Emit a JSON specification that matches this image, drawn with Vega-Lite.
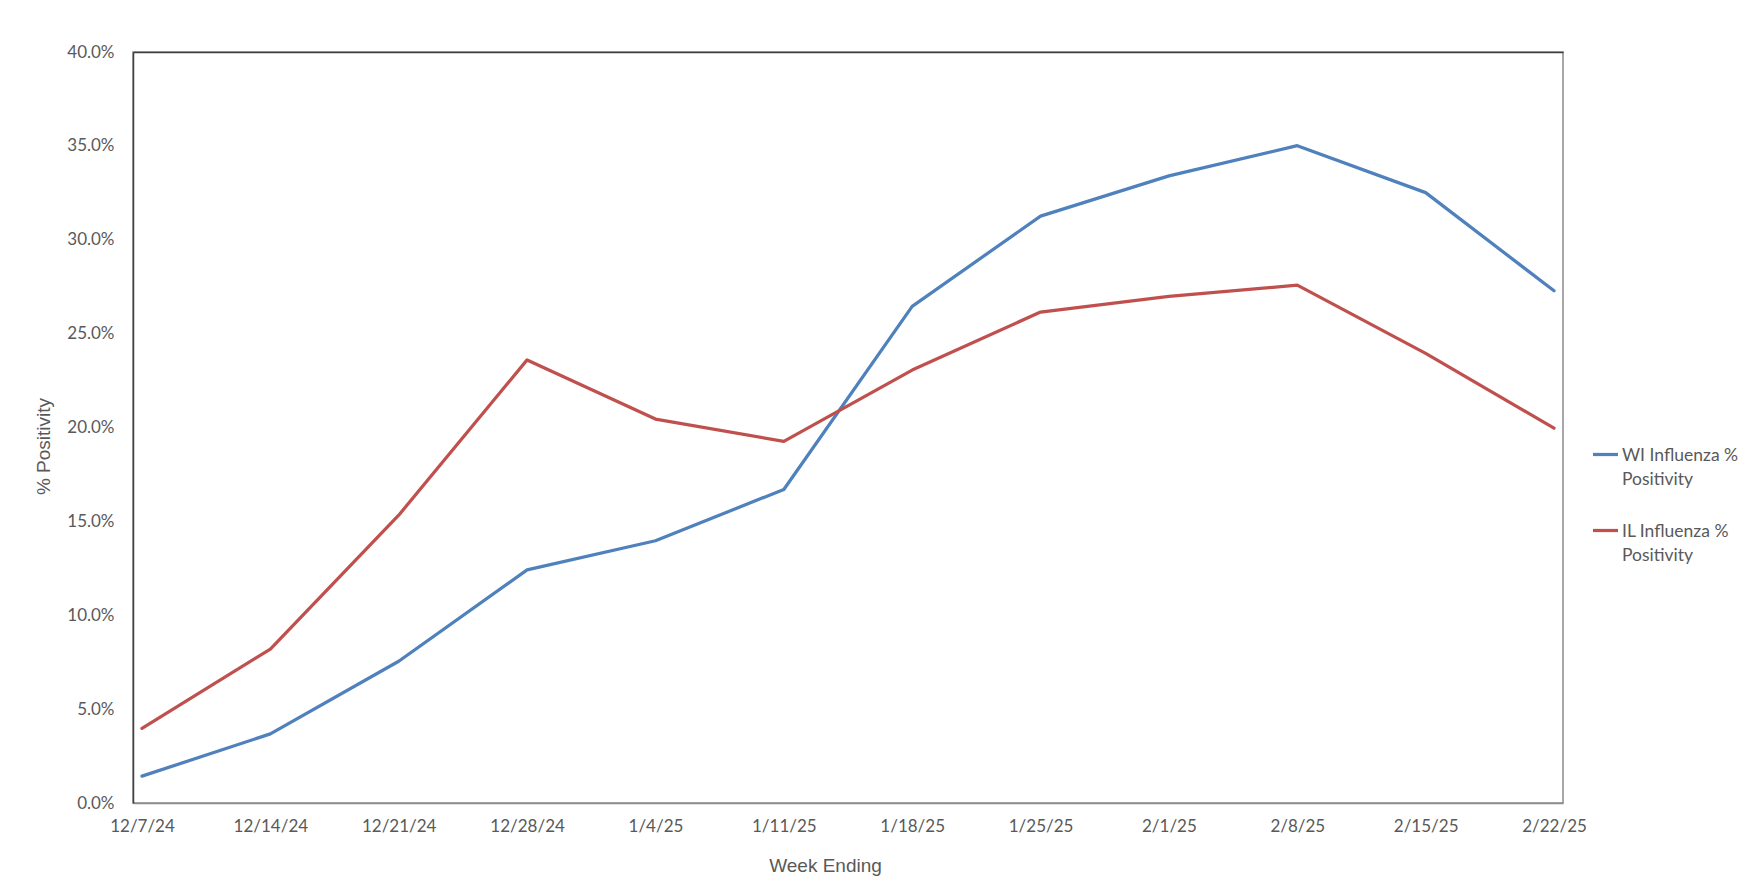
{
  "$schema": "https://vega.github.io/schema/vega-lite/v6.json",
  "width": 1430,
  "height": 751,
  "autosize": {"type": "none"},
  "padding": {"left": 133, "top": 52, "right": 187, "bottom": 92},
  "background": "white",
  "config": {
    "view": {"stroke": "#8c8c8c", "strokeWidth": 1.5},
    "font": "Lato"
  },
  "data": {
    "values": [
      {"week": "12/7/24", "series": "WI Influenza % Positivity", "value": 0.0143},
      {"week": "12/14/24", "series": "WI Influenza % Positivity", "value": 0.0368},
      {"week": "12/21/24", "series": "WI Influenza % Positivity", "value": 0.0755},
      {"week": "12/28/24", "series": "WI Influenza % Positivity", "value": 0.1242},
      {"week": "1/4/25", "series": "WI Influenza % Positivity", "value": 0.1397},
      {"week": "1/11/25", "series": "WI Influenza % Positivity", "value": 0.167},
      {"week": "1/18/25", "series": "WI Influenza % Positivity", "value": 0.2645},
      {"week": "1/25/25", "series": "WI Influenza % Positivity", "value": 0.3126},
      {"week": "2/1/25", "series": "WI Influenza % Positivity", "value": 0.334},
      {"week": "2/8/25", "series": "WI Influenza % Positivity", "value": 0.3501},
      {"week": "2/15/25", "series": "WI Influenza % Positivity", "value": 0.3251},
      {"week": "2/22/25", "series": "WI Influenza % Positivity", "value": 0.2728},
      {"week": "12/7/24", "series": "IL Influenza % Positivity", "value": 0.0398},
      {"week": "12/14/24", "series": "IL Influenza % Positivity", "value": 0.082},
      {"week": "12/21/24", "series": "IL Influenza % Positivity", "value": 0.1533},
      {"week": "12/28/24", "series": "IL Influenza % Positivity", "value": 0.236},
      {"week": "1/4/25", "series": "IL Influenza % Positivity", "value": 0.2045},
      {"week": "1/11/25", "series": "IL Influenza % Positivity", "value": 0.1926},
      {"week": "1/18/25", "series": "IL Influenza % Positivity", "value": 0.2306},
      {"week": "1/25/25", "series": "IL Influenza % Positivity", "value": 0.2615},
      {"week": "2/1/25", "series": "IL Influenza % Positivity", "value": 0.2698},
      {"week": "2/8/25", "series": "IL Influenza % Positivity", "value": 0.2758},
      {"week": "2/15/25", "series": "IL Influenza % Positivity", "value": 0.2395},
      {"week": "2/22/25", "series": "IL Influenza % Positivity", "value": 0.1997}
    ]
  },
  "resolve": {"axis": {"x": "independent"}},
  "layer": [
    {
      "mark": {"type": "line", "strokeWidth": 3.25, "strokeCap": "round", "strokeJoin": "round"},
      "encoding": {
        "x": {
          "field": "week", "type": "ordinal", "sort": null,
          "scale": {"type": "point", "padding": 0.07},
          "axis": {
            "title": "Week Ending", "labelAngle": 0, "labelFontSize": 17, "labelColor": "#595959",
            "labelFont": "Lato", "labelPadding": 15, "ticks": false, "domainColor": "#8c8c8c", "domainWidth": 1.5,
            "titleFont": "Liberation Sans", "titleFontSize": 19, "titleFontWeight": "normal", "titleColor": "#595959",
            "titleX": 692, "titleY": 62, "titleBaseline": "middle"
          }
        },
        "y": {
          "field": "value", "type": "quantitative",
          "scale": {"domain": [0, 0.4], "nice": false},
          "axis": {
            "title": "% Positivity", "format": ".1%", "values": [0, 0.05, 0.1, 0.15, 0.2, 0.25, 0.3, 0.35, 0.4],
            "labelFontSize": 17, "labelColor": "#595959", "labelFont": "Lato", "labelPadding": 19,
            "ticks": false, "grid": false, "domainColor": "#404040", "domainWidth": 1.5,
            "titleFont": "Liberation Sans", "titleFontSize": 19, "titleFontWeight": "normal", "titleColor": "#595959",
            "titleX": -90, "titleY": 394, "titleBaseline": "middle"
          }
        },
        "color": {
          "field": "series", "type": "nominal",
          "scale": {"domain": ["WI Influenza % Positivity", "IL Influenza % Positivity"], "range": ["#4F81BD", "#C0504D"]},
          "legend": {
            "title": null, "orient": "none", "legendX": 1458, "legendY": 388,
            "symbolType": "stroke", "symbolSize": 625, "symbolStrokeWidth": 3.25,
            "labelFont": "Lato", "labelFontSize": 17.5, "labelColor": "#595959", "labelOffset": 2,
            "labelBaseline": "alphabetic", "rowPadding": 28, "padding": 0, "labelLimit": 300,
            "labelExpr": "datum.label == 'WI Influenza % Positivity' ? ['WI Influenza %', 'Positivity'] : ['IL Influenza %', 'Positivity']",
            "encode": {"labels": {"update": {"dy": {"value": 6}, "lineHeight": {"value": 24}}}}
          }
        }
      }
    },
    {
      "mark": {"type": "line", "opacity": 0},
      "encoding": {
        "x": {
          "field": "week", "type": "ordinal", "sort": null,
          "axis": {"orient": "top", "labels": false, "ticks": false, "title": null, "domainColor": "#404040", "domainWidth": 1.5}
        },
        "y": {"field": "value", "type": "quantitative"},
        "detail": {"field": "series"}
      }
    }
  ]
}
